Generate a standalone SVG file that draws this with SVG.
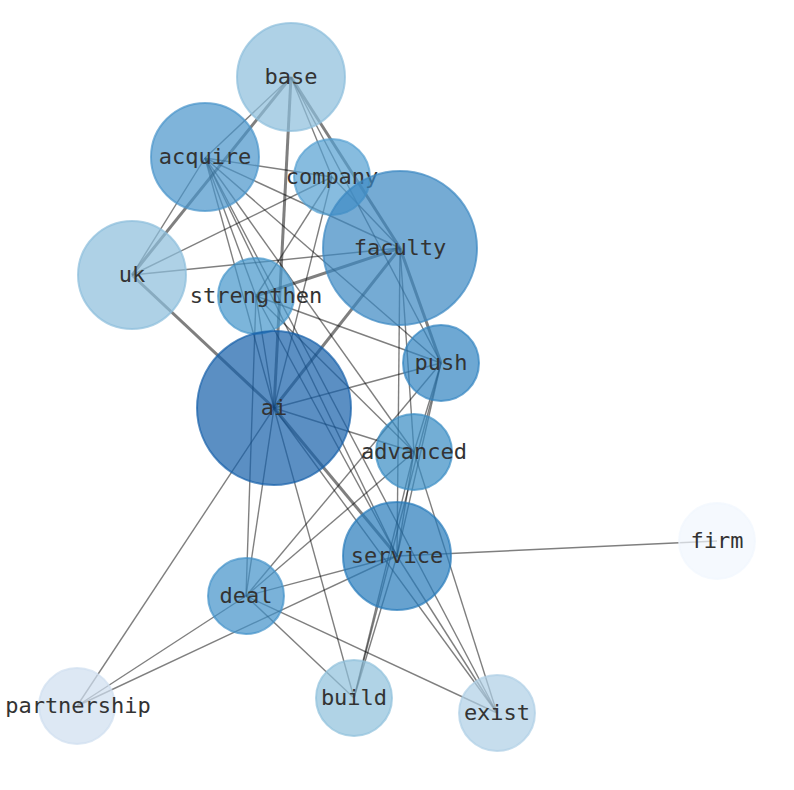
<svg xmlns="http://www.w3.org/2000/svg" width="794" height="790" viewBox="0 0 794 790">
<style>
.e{stroke:#000;stroke-opacity:0.5;stroke-width:1.4;fill:none}
.w{stroke-width:3}
circle{fill-opacity:0.7;stroke-opacity:0.7;stroke-width:2}
text{font-family:"DejaVu Sans Mono","Liberation Mono",monospace;font-size:22px;fill:#333;text-anchor:middle;dominant-baseline:central}
</style>
<defs><clipPath id="edgeclip"><rect x="6" y="0" width="788" height="790"/></clipPath></defs>
<rect width="794" height="790" fill="#fff"/>
<g id="edges">
<line class="e" x1="291" y1="77" x2="205" y2="158"/>
<line class="e w" x1="291" y1="77" x2="132" y2="275"/>
<line class="e w" x1="291" y1="77" x2="274" y2="408"/>
<line class="e w" x1="291" y1="77" x2="400" y2="248"/>
<line class="e" x1="291" y1="77" x2="332" y2="177"/>
<line class="e" x1="291" y1="77" x2="441" y2="363"/>
<line class="e" x1="205" y1="158" x2="132" y2="275"/>
<line class="e" x1="205" y1="158" x2="332" y2="177"/>
<line class="e" x1="205" y1="158" x2="400" y2="248"/>
<line class="e" x1="205" y1="158" x2="441" y2="363"/>
<line class="e" x1="205" y1="158" x2="414" y2="452"/>
<line class="e" x1="205" y1="158" x2="256" y2="296"/>
<line class="e" x1="205" y1="158" x2="274" y2="408"/>
<line class="e" x1="205" y1="158" x2="497" y2="713"/>
<line class="e" x1="205" y1="158" x2="397" y2="556"/>
<line class="e" x1="132" y1="275" x2="332" y2="177"/>
<line class="e" x1="132" y1="275" x2="400" y2="248"/>
<line class="e w" x1="132" y1="275" x2="274" y2="408"/>
<line class="e" x1="332" y1="177" x2="256" y2="296"/>
<line class="e" x1="332" y1="177" x2="274" y2="408"/>
<line class="e" x1="332" y1="177" x2="400" y2="248"/>
<line class="e w" x1="400" y1="248" x2="256" y2="296"/>
<line class="e w" x1="400" y1="248" x2="274" y2="408"/>
<line class="e w" x1="400" y1="248" x2="441" y2="363"/>
<line class="e" x1="400" y1="248" x2="397" y2="556"/>
<line class="e" x1="400" y1="248" x2="414" y2="452"/>
<line class="e" x1="256" y1="296" x2="441" y2="363"/>
<line class="e" x1="256" y1="296" x2="414" y2="452"/>
<line class="e" x1="256" y1="296" x2="274" y2="408"/>
<line class="e" x1="256" y1="296" x2="246" y2="596"/>
<line class="e" x1="256" y1="296" x2="397" y2="556"/>
<line class="e" x1="274" y1="408" x2="441" y2="363"/>
<line class="e" x1="274" y1="408" x2="414" y2="452"/>
<line class="e w" x1="274" y1="408" x2="397" y2="556"/>
<line class="e" x1="274" y1="408" x2="246" y2="596"/>
<line class="e" x1="274" y1="408" x2="77" y2="706"/>
<line class="e" x1="274" y1="408" x2="354" y2="698"/>
<line class="e" x1="274" y1="408" x2="497" y2="713"/>
<line class="e" x1="441" y1="363" x2="414" y2="452"/>
<line class="e" x1="441" y1="363" x2="397" y2="556"/>
<line class="e" x1="441" y1="363" x2="354" y2="698"/>
<line class="e" x1="441" y1="363" x2="246" y2="596"/>
<line class="e" x1="414" y1="452" x2="246" y2="596"/>
<line class="e" x1="414" y1="452" x2="397" y2="556"/>
<line class="e" x1="414" y1="452" x2="354" y2="698"/>
<line class="e" x1="414" y1="452" x2="497" y2="713"/>
<line class="e" x1="397" y1="556" x2="717" y2="541"/>
<line class="e" x1="397" y1="556" x2="246" y2="596"/>
<line class="e" x1="397" y1="556" x2="77" y2="706"/>
<line class="e" x1="397" y1="556" x2="354" y2="698"/>
<line class="e" x1="397" y1="556" x2="497" y2="713"/>
<line class="e" x1="246" y1="596" x2="77" y2="706"/>
<line class="e" x1="246" y1="596" x2="354" y2="698"/>
<line class="e" x1="246" y1="596" x2="497" y2="713"/>
</g>
<g id="base"><circle cx="291" cy="77" r="54" fill="#8bbedb" stroke="#8bbedb"/><text x="291" y="76">base</text></g>
<g id="acquire"><circle cx="205" cy="157" r="54" fill="#4894ca" stroke="#4894ca"/><text x="205" y="156">acquire</text></g>
<g id="company"><circle cx="332" cy="177" r="38" fill="#549fd1" stroke="#549fd1"/><text x="332" y="176">company</text></g>
<g id="faculty"><circle cx="400" cy="248" r="77" fill="#3a88c2" stroke="#3a88c2"/><text x="400" y="247">faculty</text></g>
<g id="uk"><circle cx="132" cy="275" r="54" fill="#8bbedb" stroke="#8bbedb"/><text x="132" y="274">uk</text></g>
<g id="strengthen"><circle cx="256" cy="296" r="38" fill="#4595ca" stroke="#4595ca"/><text x="256" y="295">strengthen</text></g>
<g id="ai"><circle cx="274" cy="408" r="77" fill="#155fa9" stroke="#155fa9"/><text x="274" y="407">ai</text></g>
<g id="push"><circle cx="441" cy="363" r="38" fill="#3083c0" stroke="#3083c0"/><text x="441" y="362">push</text></g>
<g id="advanced"><circle cx="414" cy="452" r="38" fill="#388bc3" stroke="#388bc3"/><text x="414" y="451">advanced</text></g>
<g id="service"><circle cx="397" cy="556" r="54" fill="#277abb" stroke="#277abb"/><text x="397" y="555">service</text></g>
<g id="firm"><circle cx="717" cy="541" r="38" fill="#f1f6fd" stroke="#f1f6fd"/><text x="717" y="540">firm</text></g>
<g id="deal"><circle cx="246" cy="596" r="38" fill="#4191c9" stroke="#4191c9"/><text x="246" y="595">deal</text></g>
<g id="partnership"><circle cx="77" cy="706" r="38" fill="#cfdeef" stroke="#cfdeef"/><text x="78" y="705" clip-path="url(#edgeclip)">partnership</text></g>
<g id="build"><circle cx="354" cy="698" r="38" fill="#8ec0dc" stroke="#8ec0dc"/><text x="354" y="697">build</text></g>
<g id="exist"><circle cx="497" cy="713" r="38" fill="#aecfe5" stroke="#aecfe5"/><text x="497" y="712">exist</text></g>
</svg>
